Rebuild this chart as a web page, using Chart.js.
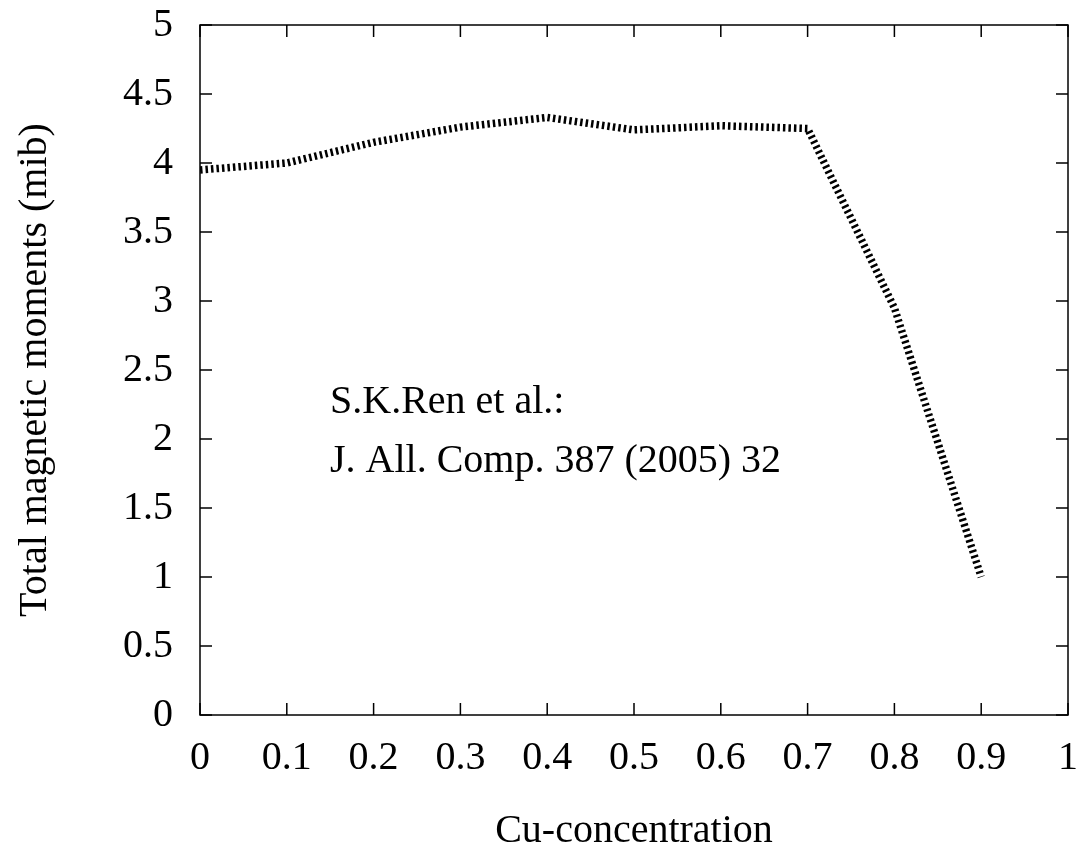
<!DOCTYPE html>
<html>
<head>
<meta charset="utf-8">
<title>Total magnetic moments vs Cu-concentration</title>
<script src="https://cdn.jsdelivr.net/npm/chart.js@4.4.1/dist/chart.umd.min.js"></script>
<style>
  html, body { margin: 0; padding: 0; background: #fff; }
  #wrap { width: 1082px; height: 851px; }
</style>
</head>
<body>
<div id="wrap"><canvas id="chart"></canvas></div>
<script>
// Cu-concentration vs total magnetic moment
const concentration = [0, 0.1, 0.2, 0.3, 0.4, 0.5, 0.6, 0.7, 0.8, 0.9];
const moments = [3.95, 4.0, 4.15, 4.26, 4.33, 4.24, 4.27, 4.25, 2.95, 1.0];

const xTicks = [0, 0.1, 0.2, 0.3, 0.4, 0.5, 0.6, 0.7, 0.8, 0.9, 1];
const xTickLabels = ['0', '0.1', '0.2', '0.3', '0.4', '0.5', '0.6', '0.7', '0.8', '0.9', '1'];
const yTicks = [0, 0.5, 1, 1.5, 2, 2.5, 3, 3.5, 4, 4.5, 5];
const yTickLabels = ['0', '0.5', '1', '1.5', '2', '2.5', '3', '3.5', '4', '4.5', '5'];

const noteLines = ['S.K.Ren et al.:', 'J. All. Comp. 387 (2005) 32'];

const serif = '"Liberation Serif", "DejaVu Serif", serif';

// gnuplot-style frame with inward ticks on all four sides
const framePlugin = {
  id: 'frame',
  afterDraw(chart) {
    const { ctx, chartArea: a, scales } = chart;
    const len = 12;
    ctx.save();
    ctx.strokeStyle = '#000';
    ctx.lineWidth = 1.5;
    ctx.strokeRect(a.left, a.top, a.right - a.left, a.bottom - a.top);
    ctx.beginPath();
    xTicks.forEach(v => {
      const px = scales.x.getPixelForValue(v);
      ctx.moveTo(px, a.bottom); ctx.lineTo(px, a.bottom - len);
      ctx.moveTo(px, a.top); ctx.lineTo(px, a.top + len);
    });
    yTicks.forEach(v => {
      const py = scales.y.getPixelForValue(v);
      ctx.moveTo(a.left, py); ctx.lineTo(a.left + len, py);
      ctx.moveTo(a.right, py); ctx.lineTo(a.right - len, py);
    });
    ctx.stroke();

    ctx.fillStyle = '#000';
    ctx.font = '40px ' + serif;
    ctx.textAlign = 'left';
    ctx.textBaseline = 'alphabetic';
    noteLines.forEach((t, i) => ctx.fillText(t, a.left + 130, 413 + i * 59));
    ctx.restore();
  }
};

const ctx = document.getElementById('chart').getContext('2d');
const chart = new Chart(ctx, {
  type: 'line',
  data: {
    datasets: [{
      data: concentration.map((x, i) => ({ x: x, y: moments[i] })),
      borderColor: '#000',
      borderWidth: 7.5,
      borderDash: [2.5, 3],
      borderCapStyle: 'butt',
      borderJoinStyle: 'miter',
      pointRadius: 0,
      tension: 0,
      fill: false
    }]
  },
  options: {
    responsive: true,
    maintainAspectRatio: false,
    animation: false,
    layout: { padding: { top: 25, right: 14, left: 0, bottom: 0 } },
    plugins: { legend: { display: false }, tooltip: { enabled: false } },
    scales: {
      x: {
        type: 'linear',
        min: 0,
        max: 1,
        afterBuildTicks: s => { s.ticks = xTicks.map(v => ({ value: v })); },
        afterFit: s => { s.height = 136; s.paddingLeft = 0; s.paddingRight = 0; },
        grid: { display: false, drawTicks: false },
        border: { display: false },
        ticks: {
          color: '#000',
          padding: 19,
          maxRotation: 0,
          font: { family: serif, size: 40 },
          callback: (v, i) => xTickLabels[i]
        },
        title: {
          display: true,
          text: 'Cu-concentration',
          color: '#000',
          font: { family: serif, size: 40, lineHeight: 1 },
          padding: { top: 0, bottom: 0 }
        }
      },
      y: {
        type: 'linear',
        min: 0,
        max: 5,
        afterBuildTicks: s => { s.ticks = yTicks.map(v => ({ value: v })); },
        afterFit: s => { s.width = 200; s.paddingTop = 0; s.paddingBottom = 0; },
        grid: { display: false, drawTicks: false },
        border: { display: false },
        ticks: {
          color: '#000',
          padding: 27,
          font: { family: serif, size: 40 },
          callback: (v, i) => yTickLabels[i]
        },
        title: {
          display: true,
          text: 'Total magnetic moments (mib)',
          color: '#000',
          font: { family: serif, size: 40, lineHeight: 1.2 },
          padding: { top: 11, bottom: 0 }
        }
      }
    }
  },
  plugins: [framePlugin]
});
</script>
</body>
</html>
